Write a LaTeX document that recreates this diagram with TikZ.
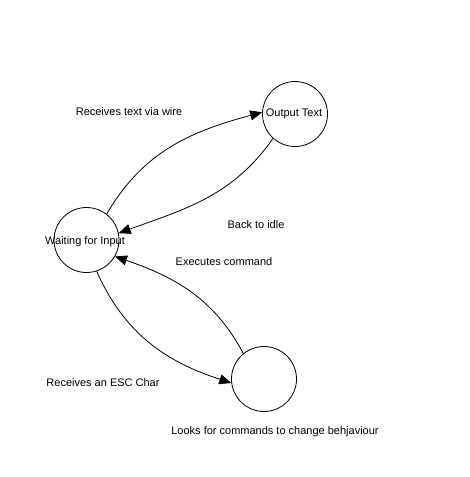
\documentclass[tikz,border=0pt]{standalone}
\usepackage{fontspec}
\setmainfont{Liberation Sans}
\usetikzlibrary{arrows.meta}
\begin{document}
\begin{tikzpicture}[x=1pt,y=-1pt,
  state/.style={circle,draw=black,line width=0.8pt,minimum size=65pt,inner sep=0pt},
  txt/.style={inner sep=0pt,font=\fontsize{11}{13}\selectfont},
  edge/.style={draw=black,line width=0.8pt,-{Triangle[length=12pt,width=10pt]}}]
\fill[white] (0,0) rectangle (470,477);
\useasboundingbox (0,0) rectangle (470,477);
\node[state] (W) at (86.5,240) {};
\node[state] (O) at (295,114) {};
\node[state] (B) at (264,379) {};
\node[txt] (Wt) at (85,242) {Waiting for Input};
\node[txt] (Ot) at (294,114) {Output Text};
\node[txt] (l1) at (129,112) {Receives text via wire};
\node[txt] (l2) at (256,225) {Back to idle};
\node[txt] (l3) at (224,262) {Executes command};
\node[txt] (l4) at (103,383) {Receives an ESC Char};
\node[txt] (l5) at (275,432) {Looks for commands to change behjaviour};
\draw[edge] (W.52) to[out=60,in=195] (O.177);
\draw[edge] (O.228) to[out=235,in=20] (W.12);
\draw[edge] (W.-72) to[out=-66,in=162] (B.187);
\draw[edge] (B.129) to[out=118,in=341] (W.-30);
\end{tikzpicture}
\end{document}
